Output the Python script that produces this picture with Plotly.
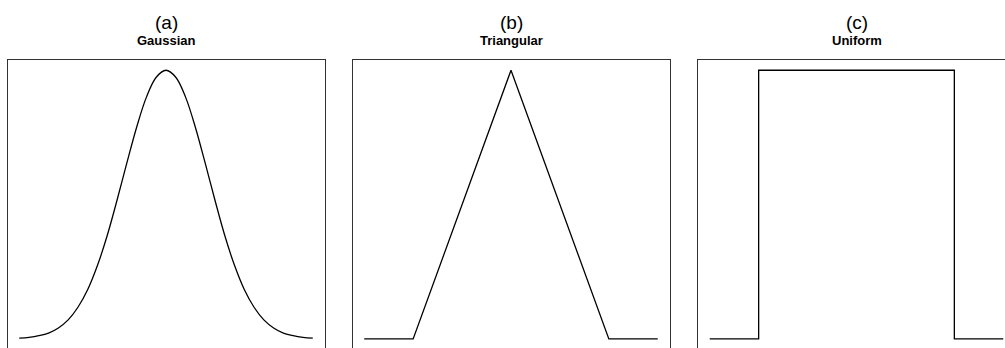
import plotly.graph_objects as go

# ---- data ----
panel_labels = ["(a)", "(b)", "(c)"]
panel_names = ["Gaussian", "Triangular", "Uniform"]

gauss_x = [-1.5, -1.4, -1.3, -1.2, -1.1, -1.0, -0.9, -0.8, -0.7, -0.6, -0.5, -0.4, -0.3, -0.2, -0.1,
           0.0, 0.1, 0.2, 0.3, 0.4, 0.5, 0.6, 0.7, 0.8, 0.9, 1.0, 1.1, 1.2, 1.3, 1.4, 1.5]
gauss_y = [0.003, 0.006, 0.012, 0.022, 0.041, 0.071, 0.118, 0.184, 0.274, 0.386, 0.517, 0.655, 0.788, 0.900, 0.974,
           1.000, 0.974, 0.900, 0.788, 0.655, 0.517, 0.386, 0.274, 0.184, 0.118, 0.071, 0.041, 0.022, 0.012, 0.006, 0.003]

tri_x = [-1.5, -1.0, 0.0, 1.0, 1.5]
tri_y = [0.0, 0.0, 1.0, 0.0, 0.0]

uni_x = [-1.5, -1.0, -1.0, 1.0, 1.0, 1.5]
uni_y = [0.0, 0.0, 1.0, 1.0, 0.0, 0.0]

W, H = 1005, 348
FONT = "Liberation Sans, Arial, Helvetica, sans-serif"

fig = go.Figure()
series = [(gauss_x, gauss_y, "spline"), (tri_x, tri_y, "linear"), (uni_x, uni_y, "linear")]
for i, (xs, ys, shape) in enumerate(series):
    fig.add_trace(go.Scatter(x=xs, y=ys, mode="lines",
                             line=dict(color="black", width=1.3, shape=shape),
                             xaxis="x" if i == 0 else f"x{i+1}",
                             yaxis="y" if i == 0 else f"y{i+1}",
                             showlegend=False, hoverinfo="skip"))

# panel boxes in pixels (left, right); panel c runs past the right edge
boxes = [(7.5, 324.5), (352.5, 670.0), (698.0, 1005.0)]
scale = 317.0 / 3.24  # px per unit
top_px = 59.5
ydom_top = 1 - top_px / H
yunit = 268.7
ylo = 1.04 - (H - top_px) / yunit

layout = dict(width=W, height=H, margin=dict(l=0, r=0, t=0, b=0),
              paper_bgcolor="white", plot_bgcolor="white", showlegend=False)
annotations = []
for i, (l, r) in enumerate(boxes):
    sx = "" if i == 0 else str(i + 1)
    xr = [-1.62, -1.62 + (r - l) / scale]
    layout["xaxis" + sx] = dict(domain=[l / W, r / W], range=xr, showgrid=False, zeroline=False,
                                showticklabels=False, ticks="", showline=True, side="top",
                                mirror=False, linecolor="#333", linewidth=1,
                                anchor="y" + sx, fixedrange=True)
    layout["yaxis" + sx] = dict(domain=[0, ydom_top], range=[ylo, 1.04], showgrid=False, zeroline=False,
                                showticklabels=False, ticks="", showline=True,
                                mirror=(i < 2), linecolor="#333", linewidth=1,
                                anchor="x" + sx, fixedrange=True)
    annotations.append(dict(text=panel_labels[i], x=0, xref="x" + sx, y=1 - 22.5 / H, yref="paper",
                            xanchor="center", yanchor="middle", showarrow=False,
                            font=dict(family=FONT, size=19, color="black")))
    annotations.append(dict(text="<b>" + panel_names[i] + "</b>", x=0, xref="x" + sx, y=1 - 40.5 / H,
                            yref="paper", xanchor="center", yanchor="middle", showarrow=False,
                            font=dict(family=FONT, size=13, color="black")))
layout["annotations"] = annotations
fig.update_layout(**layout)
fig.write_html("out.html", config={"displayModeBar": False},
               post_script="document.body.style.margin='0';document.body.style.overflow='hidden';")
